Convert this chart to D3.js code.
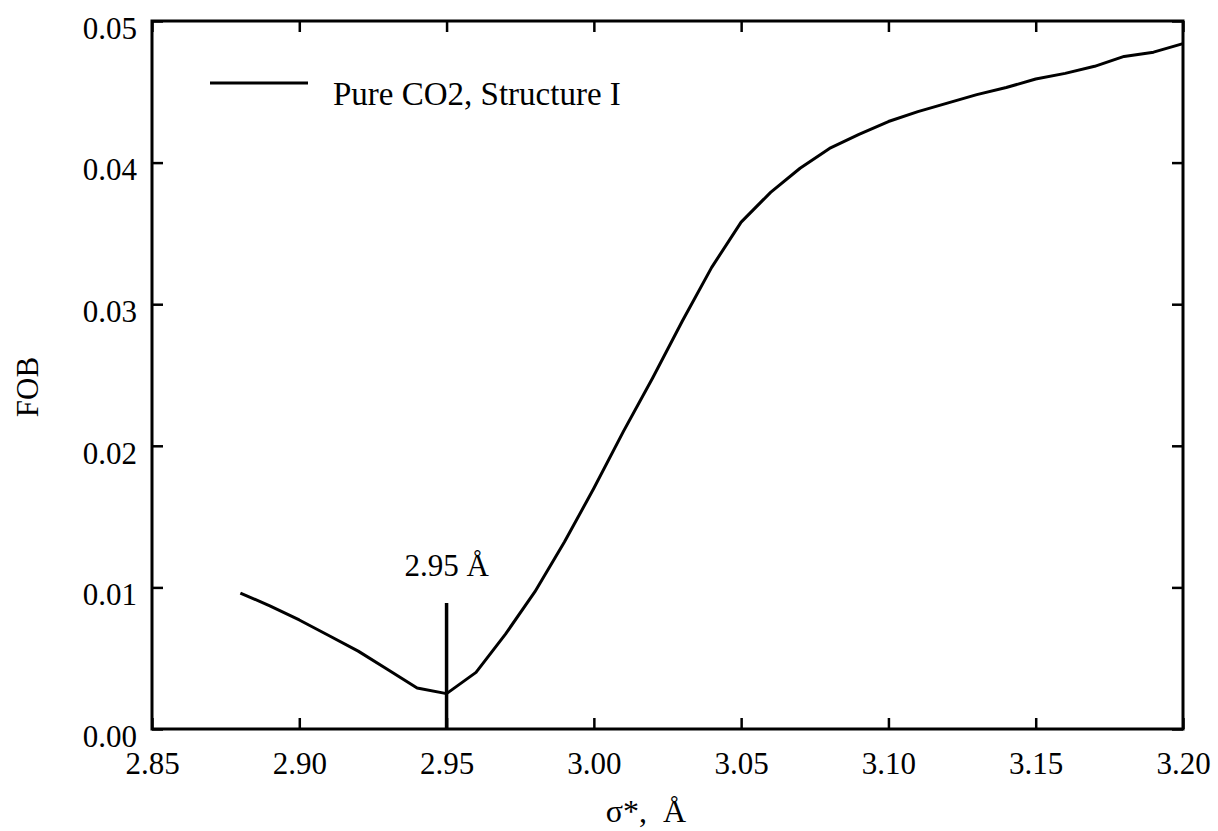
<!DOCTYPE html>
<html>
<head>
<meta charset="utf-8">
<script src="https://cdn.jsdelivr.net/npm/d3@7"></script>
<style>
  html, body { margin: 0; padding: 0; background: #fff; }
  svg { display: block; font-family: "Liberation Serif", "DejaVu Serif", serif; }
  text { white-space: pre; }
</style>
</head>
<body>
<svg id="chart" width="1218" height="831"></svg>
<script>
// ---- data ----
const sigma = [2.88, 2.89, 2.90, 2.91, 2.92, 2.93, 2.94, 2.95, 2.96, 2.97, 2.98, 2.99,
               3.00, 3.01, 3.02, 3.03, 3.04, 3.05, 3.06, 3.07, 3.08, 3.09, 3.10,
               3.11, 3.12, 3.13, 3.14, 3.15, 3.16, 3.17, 3.18, 3.19, 3.20];
const fob = [0.0096, 0.0087, 0.0077, 0.0066, 0.0055, 0.0042, 0.0029, 0.0025, 0.0040, 0.0067, 0.0097, 0.0132,
             0.0170, 0.0210, 0.0248, 0.0288, 0.0326, 0.0358, 0.0379, 0.0396, 0.0410, 0.0420, 0.0429,
             0.0436, 0.0442, 0.0448, 0.0453, 0.0459, 0.0463, 0.0468, 0.0475, 0.0478, 0.0484];
const xTicks = [2.85, 2.90, 2.95, 3.00, 3.05, 3.10, 3.15, 3.20];
const yTicks = [0.00, 0.01, 0.02, 0.03, 0.04, 0.05];
const xDomain = [2.85, 3.20];
const yDomain = [0.00, 0.05];
const markerX = [2.95];
const markerTop = [0.0089];
const markerLabel = "2.95 Å";
const seriesName = "Pure CO2, Structure I";
const xTitle = "σ*,  Å";
const yTitle = "FOB";

// ---- layout ----
const L = 152, R = 1183, T = 21, B = 729;
const svg = d3.select("#chart");
const x = d3.scaleLinear().domain(xDomain).range([L, R]);
const y = d3.scaleLinear().domain(yDomain).range([B, T]);
const fontSize = 31;

// axes (inward ticks on all four sides)
const gB = svg.append("g").attr("transform", `translate(0,${B})`)
  .call(d3.axisBottom(x).tickValues(xTicks).tickSize(-11).tickFormat(d3.format(".2f")));
gB.selectAll("text").attr("y", 45).attr("dy", 0);
const gT = svg.append("g").attr("transform", `translate(0,${T})`)
  .call(d3.axisTop(x).tickValues(xTicks).tickSize(-11).tickFormat(""));
const gL = svg.append("g").attr("transform", `translate(${L},0)`)
  .call(d3.axisLeft(y).tickValues(yTicks).tickSize(-11).tickPadding(15).tickFormat(d3.format(".2f")));
gL.selectAll("text").attr("dy", "0.56em");
const gR = svg.append("g").attr("transform", `translate(${R},0)`)
  .call(d3.axisRight(y).tickValues(yTicks).tickSize(-11).tickFormat(""));

[gB, gT, gL, gR].forEach(g => {
  g.select(".domain").remove();
  g.selectAll("line").attr("stroke", "#000").attr("stroke-width", 2.5);
  g.selectAll("text").attr("fill", "#000").style("font-size", fontSize + "px")
    .style("font-family", '"Liberation Serif", serif');
});

// frame
svg.append("rect")
  .attr("x", L).attr("y", T).attr("width", R - L).attr("height", B - T)
  .attr("fill", "none").attr("stroke", "#000").attr("stroke-width", 3);

// curve
const pts = sigma.map((s, i) => [s, fob[i]]);
svg.append("path")
  .datum(pts)
  .attr("fill", "none").attr("stroke", "#000").attr("stroke-width", 3)
  .attr("stroke-linejoin", "round")
  .attr("d", d3.line().x(d => x(d[0])).y(d => y(d[1])));

// marker line at 2.95
svg.selectAll(".marker").data(markerX).enter().append("line")
  .attr("x1", d => x(d)).attr("x2", d => x(d))
  .attr("y1", y(0)).attr("y2", (d, i) => y(markerTop[i]))
  .attr("stroke", "#000").attr("stroke-width", 3.5);
svg.append("text")
  .attr("x", x(markerX[0])).attr("y", y(markerTop[0]) - 27)
  .attr("text-anchor", "middle").style("font-size", fontSize + "px")
  .text(markerLabel);

// legend
svg.append("line")
  .attr("x1", 210).attr("x2", 308).attr("y1", 83).attr("y2", 83)
  .attr("stroke", "#000").attr("stroke-width", 3);
svg.append("text")
  .attr("x", 333).attr("y", 105).style("font-size", "33px")
  .text(seriesName);

// axis titles
svg.append("text")
  .attr("transform", `translate(38,387) rotate(-90)`)
  .attr("text-anchor", "middle").style("font-size", "31px")
  .text(yTitle);
svg.append("text")
  .attr("x", 646).attr("y", 822)
  .attr("text-anchor", "middle").style("font-size", "32px")
  .text(xTitle);
</script>
</body>
</html>
